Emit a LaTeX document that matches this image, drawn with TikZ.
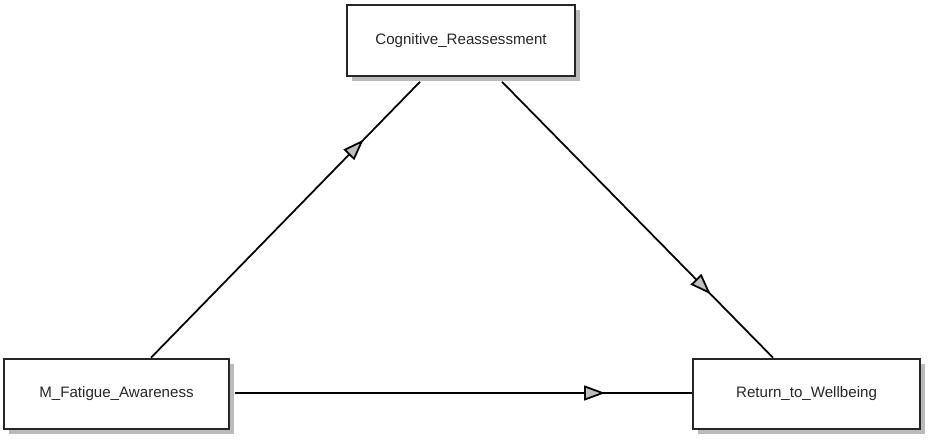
\documentclass[tikz,border=0pt]{standalone}
\usepackage{fontspec}
\setmainfont{Liberation Sans}
\usetikzlibrary{arrows.meta,calc,shadows,decorations.markings}

\begin{document}
\begin{tikzpicture}[x=0.02cm,y=0.02cm]

\useasboundingbox (0,0) rectangle (935,443);

% set style here
\tikzstyle{box}=[draw=black!85,line width=1.2pt,fill=white,rectangle,
  minimum height=1.41cm,inner sep=0pt,text=black!85,
  font=\fontsize{8.6}{10}\selectfont,
  drop shadow={shadow xshift=0.1cm,shadow yshift=-0.1cm,fill=black!27,opacity=1}];
\tikzstyle{link}=[draw=black,line width=1pt];
\tikzset{tipat/.style={postaction={decorate},decoration={markings,
  mark=at position #1 with {\arrow{Triangle[length=12pt,width=8.5pt,fill=black!25]}}}}}

\node (cog) at (461,402.5) [box,minimum width=4.56cm] {Cognitive\_Reassessment};
\node (fat) at (116.5,49) [box,minimum width=4.5cm] {M\_Fatigue\_Awareness};
\node (ret) at (806.5,49) [box,minimum width=4.54cm] {Return\_to\_Wellbeing};

% mediation paths
\draw [link,tipat=0.79] ($(fat.north)+(34.5,0)$) -- ($(cog.south)+(-41,-5)$);
\draw [link,tipat=0.77] ($(cog.south)+(41,-5)$) -- ($(ret.north)+(-33.5,0)$);
\draw [link,tipat=0.81] ($(fat.east)+(5,1)$) -- ($(ret.west)+(0,1)$);

\end{tikzpicture}
\end{document}
